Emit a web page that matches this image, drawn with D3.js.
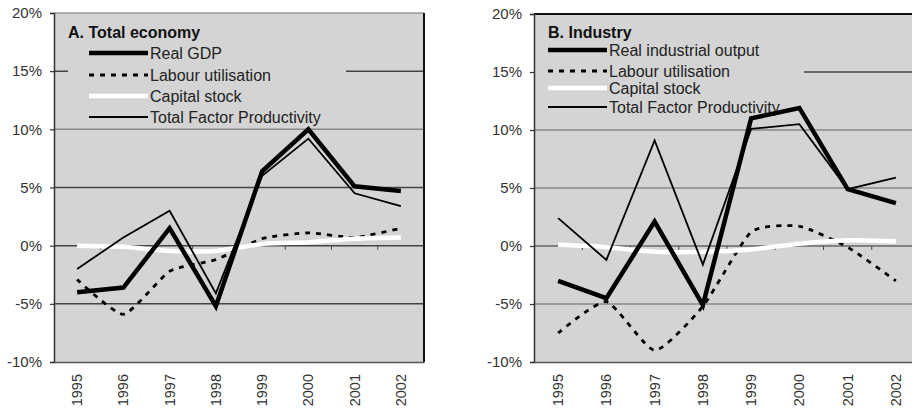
<!DOCTYPE html>
<html><head><meta charset="utf-8">
<script src="https://cdn.jsdelivr.net/npm/d3@7"></script>
<style>
html,body{margin:0;padding:0;background:#fff;}
svg{display:block;font-family:"Liberation Sans",Arial,sans-serif;}
</style></head>
<body>
<svg id="chart" width="912" height="409"></svg>
<script>
const years = ["1995","1996","1997","1998","1999","2000","2001","2002"];
const yTicks = [-10,-5,0,5,10,15,20];

// Panel A: Total economy
const gdpA     = [-4.0, -3.6, 1.5, -5.2, 6.4, 10.0, 5.1, 4.7];
const labourA  = [-2.9, -5.9, -2.2, -1.2, 0.6, 1.1, 0.7, 1.5];
const capitalA = [0.0, -0.1, -0.45, -0.45, 0.15, 0.3, 0.6, 0.7];
const tfpA     = [-2.0, 0.7, 3.0, -4.1, 6.0, 9.2, 4.5, 3.4];

// Panel B: Industry
const outputB  = [-3.0, -4.5, 2.1, -5.1, 11.0, 11.9, 4.9, 3.7];
const labourB  = [-7.5, -4.8, -9.0, -5.2, 1.2, 1.7, -0.1, -3.0];
const capitalB = [0.1, -0.1, -0.5, -0.5, -0.3, 0.2, 0.5, 0.4];
const tfpB     = [2.4, -1.2, 9.1, -1.6, 10.1, 10.5, 4.9, 5.9];

const legendA = ["Real GDP","Labour utilisation","Capital stock","Total Factor Productivity"];
const legendB = ["Real industrial output","Labour utilisation","Capital stock","Total Factor Productivity"];

const svg = d3.select("#chart");
const BG = "#d4d4d4";

const styles = [
  {stroke:"#000", width:4.5, dash:null, curve:d3.curveLinear},
  {stroke:"#000", width:2.8, dash:"5,6", curve:d3.curveCardinal.tension(0.45)},
  {stroke:"#fff", width:4.5, dash:null, curve:d3.curveCardinal.tension(0.3)},
  {stroke:"#000", width:1.8, dash:null, curve:d3.curveLinear}
];

function panel(cfg){
  const g = svg.append("g");
  const x = d3.scaleBand().domain(years).range([cfg.x0, cfg.x1]);
  const y = d3.scaleLinear().domain([-10,20]).range([cfg.yb, cfg.yt]);

  g.append("rect").attr("x",cfg.x0).attr("y",cfg.yt)
    .attr("width",cfg.x1-cfg.x0).attr("height",cfg.yb-cfg.yt).attr("fill",BG);

  // gridlines
  g.selectAll(".grid").data(yTicks.filter(d=>d>-10 && d<20)).enter().append("line")
    .attr("x1",cfg.x0).attr("x2",cfg.x1)
    .attr("y1",d=>y(d)).attr("y2",d=>y(d))
    .attr("stroke",d=>cfg.gridColor(d)).attr("stroke-width",1.5);

  // legend box
  g.append("rect").attr("x",cfg.lb[0]).attr("y",cfg.lb[1])
    .attr("width",cfg.lb[2]).attr("height",cfg.lb[3]).attr("fill",BG);

  // borders
  g.append("line").attr("x1",cfg.x0).attr("x2",cfg.x1).attr("y1",cfg.yt).attr("y2",cfg.yt)
    .attr("stroke",cfg.topColor).attr("stroke-width",cfg.topWidth);
  g.append("line").attr("x1",cfg.x1).attr("x2",cfg.x1).attr("y1",cfg.yt).attr("y2",cfg.yb)
    .attr("stroke","#111").attr("stroke-width",2);

  // y axis
  const yAxis = d3.axisLeft(y).tickValues(yTicks).tickSize(4).tickPadding(8)
    .tickFormat(d=>d+"%");
  const ya = g.append("g").attr("transform",`translate(${cfg.x0},0)`).call(yAxis);
  ya.select(".domain").attr("stroke","#333").attr("stroke-width",1.5);
  ya.selectAll(".tick line").attr("stroke","#333").attr("stroke-width",1.2);
  ya.selectAll(".tick text").attr("fill","#333").attr("font-size",15)
    .attr("font-family","Liberation Sans, Arial, sans-serif");

  // bottom border and category labels
  const xAxis = d3.axisBottom(x).tickSize(0).tickPadding(0);
  const xa = g.append("g").attr("transform",`translate(0,${cfg.yb})`).call(xAxis);
  xa.select(".domain").attr("stroke","#555").attr("stroke-width",1.5);
  xa.selectAll(".tick text").attr("fill","#333").attr("font-size",14.5)
    .attr("font-family","Liberation Sans, Arial, sans-serif")
    .attr("text-anchor","end").attr("dy",null)
    .attr("transform","translate(5,12) rotate(-90)");

  // zero-line category ticks
  const bounds = years.slice(1).map(d=>x(d));
  g.selectAll(".zt").data(bounds).enter().append("line")
    .attr("x1",d=>d).attr("x2",d=>d).attr("y1",y(0)).attr("y2",y(0)+4)
    .attr("stroke","#444").attr("stroke-width",1);

  // legend
  g.append("text").attr("x",cfg.lt[0]).attr("y",cfg.lt[1]).text(cfg.title)
    .attr("font-size",16).attr("font-weight","bold").attr("fill","#111");
  cfg.legend.forEach((name,i)=>{
    const st = styles[i];
    const ly = cfg.ly[i];
    g.append("line").attr("x1",cfg.ls[0]).attr("x2",cfg.ls[1]).attr("y1",ly).attr("y2",ly)
      .attr("stroke",st.stroke).attr("stroke-width",st.width)
      .attr("stroke-dasharray",st.dash);
    g.append("text").attr("x",cfg.ls[1]+2).attr("y",ly+6).text(name)
      .attr("font-size",16).attr("fill","#222");
  });

  // series
  const order = [1,2,3,0];
  const data = cfg.series;
  const clipId = "clip"+cfg.id;
  g.append("clipPath").attr("id",clipId).append("rect")
    .attr("x",cfg.x0).attr("y",cfg.yt).attr("width",cfg.x1-cfg.x0).attr("height",cfg.yb-cfg.yt);
  order.forEach(i=>{
    const st = styles[i];
    const line = d3.line().x((d,j)=>x(years[j])+x.bandwidth()/2).y(d=>y(d)).curve(st.curve);
    g.append("path").attr("d",line(data[i])).attr("fill","none")
      .attr("stroke",st.stroke).attr("stroke-width",st.width)
      .attr("stroke-dasharray",st.dash).attr("stroke-linejoin","miter")
      .attr("clip-path",`url(#${clipId})`);
  });
}

panel({
  id:"A", x0:54, x1:424, yt:13, yb:362,
  title:"A. Total economy", legend:legendA,
  series:[gdpA, labourA, capitalA, tfpA],
  lb:[68,16,278,109], lt:[68,38], ls:[89,148], ly:[53,75,96,117],
  topColor:"#999", topWidth:1.5,
  gridColor:d=> d===10 ? "#8a8a8a" : "#444"
});

panel({
  id:"B", x0:534, x1:920, yt:14, yb:362,
  title:"B. Industry", legend:legendB,
  series:[outputB, labourB, capitalB, tfpB],
  lb:[535,17,269,103], lt:[548,38], ls:[548,607], ly:[50,71,88,107],
  topColor:"#111", topWidth:2,
  gridColor:d=> d===15 ? "#444" : (d===0 ? "#666" : "#888")
});
</script>
</body></html>
